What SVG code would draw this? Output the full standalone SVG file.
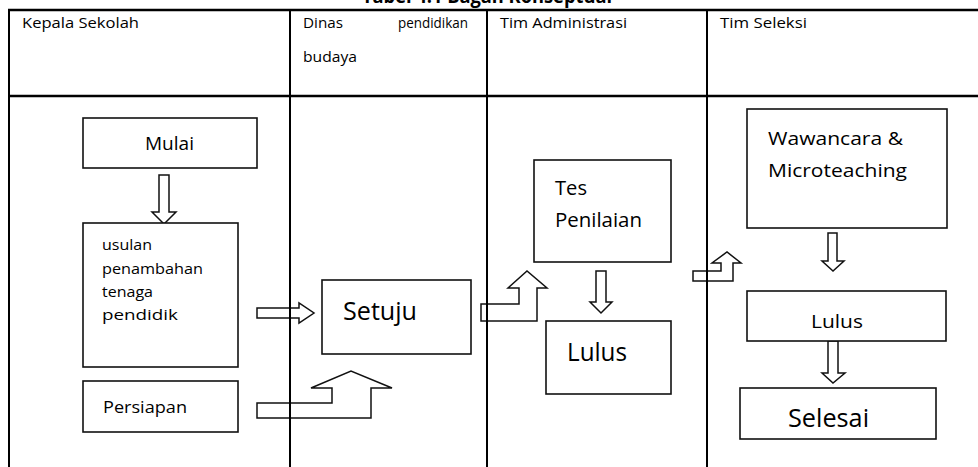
<svg xmlns="http://www.w3.org/2000/svg" width="978" height="467" viewBox="0 0 978 467">
<style>
.t{font-family:"Open Sans","Noto Sans","Liberation Sans",sans-serif;fill:#000;}
.box{fill:#fff;stroke:#111;stroke-width:1.6;}
.arr{fill:#fff;stroke:#111;stroke-width:1.5;stroke-linejoin:miter;}
.grid{stroke:#000;stroke-width:2;fill:none;}
.thick{stroke:#000;stroke-width:2.6;fill:none;}
</style>
<rect width="978" height="467" fill="#fff"/>
<text class="t" x="362" y="2.5" font-size="20" font-weight="bold" textLength="250" lengthAdjust="spacingAndGlyphs">Tabel 4.1 Bagan Konseptual</text>

<g id="connectors">
<polygon class="arr" points="159,175 169,175 169,212 176,212 164,224 152,212 159,212"/>
<polygon class="arr" points="257,308 299,308 299,303 314,313 299,323 299,318 257,318"/>
<polygon class="arr" points="257,403 332,403 332,388 311,388 351,371 392,388 371,388 371,418 257,418"/>
<polygon class="arr" points="481,304 519,304 519,288 508,288 527,271 547,288 537,288 537,321 481,321"/>
<polygon class="arr" points="596,271 606,271 606,302 612,302 601,313 590,302 596,302"/>
<polygon class="arr" points="693,271 721,271 721,263 712,263 727,252 741,263 733,263 733,281 693,281"/>
<polygon class="arr" points="828,233 837,233 837,261 844,261 833,271 822,261 828,261"/>
<polygon class="arr" points="828,341 838,341 838,373 845,373 833,383 822,373 828,373"/>
</g>

<g id="table">
<line class="thick" x1="8" y1="10" x2="978" y2="10"/>
<line class="thick" x1="8" y1="96" x2="978" y2="96"/>
<line class="grid" x1="9" y1="9" x2="9" y2="467"/>
<line class="grid" x1="290" y1="9" x2="290" y2="467"/>
<line class="grid" x1="487" y1="9" x2="487" y2="467"/>
<line class="grid" x1="707" y1="9" x2="707" y2="467"/>
<text class="t" x="22" y="28" font-size="14" textLength="117" lengthAdjust="spacingAndGlyphs">Kepala Sekolah</text>
<text class="t" x="303" y="28" font-size="14" textLength="40" lengthAdjust="spacingAndGlyphs">Dinas</text>
<text class="t" x="398" y="28" font-size="14" textLength="70" lengthAdjust="spacingAndGlyphs">pendidikan</text>
<text class="t" x="303" y="62" font-size="14" textLength="54" lengthAdjust="spacingAndGlyphs">budaya</text>
<text class="t" x="500" y="28" font-size="14" textLength="127" lengthAdjust="spacingAndGlyphs">Tim Administrasi</text>
<text class="t" x="720" y="28" font-size="14" textLength="87" lengthAdjust="spacingAndGlyphs">Tim Seleksi</text>
</g>

<g id="mulai">
<rect class="box" x="83" y="118" width="174" height="50"/>
<text class="t" x="145" y="150" font-size="18" textLength="49" lengthAdjust="spacingAndGlyphs">Mulai</text>
</g>
<g id="usulan">
<rect class="box" x="83" y="223" width="155" height="144"/>
<text class="t" x="102" y="250" font-size="14" textLength="50" lengthAdjust="spacingAndGlyphs">usulan</text>
<text class="t" x="102" y="274" font-size="14" textLength="101" lengthAdjust="spacingAndGlyphs">penambahan</text>
<text class="t" x="102" y="297" font-size="14" textLength="51" lengthAdjust="spacingAndGlyphs">tenaga</text>
<text class="t" x="102" y="320" font-size="14" textLength="76" lengthAdjust="spacingAndGlyphs">pendidik</text>
</g>
<g id="persiapan">
<rect class="box" x="83" y="381" width="155" height="51"/>
<text class="t" x="103" y="413" font-size="17" textLength="84" lengthAdjust="spacingAndGlyphs">Persiapan</text>
</g>
<g id="setuju">
<rect class="box" x="322" y="280" width="149" height="74"/>
<text class="t" x="343" y="320" font-size="25" textLength="74" lengthAdjust="spacingAndGlyphs">Setuju</text>
</g>
<g id="tes">
<rect class="box" x="534" y="160" width="137" height="102"/>
<text class="t" x="555" y="195" font-size="20" textLength="32" lengthAdjust="spacingAndGlyphs">Tes</text>
<text class="t" x="555" y="227" font-size="20" textLength="87" lengthAdjust="spacingAndGlyphs">Penilaian</text>
</g>
<g id="lulus-admin">
<rect class="box" x="546" y="321" width="125" height="73"/>
<text class="t" x="567" y="361" font-size="25" textLength="60" lengthAdjust="spacingAndGlyphs">Lulus</text>
</g>
<g id="wawancara">
<rect class="box" x="747" y="109" width="200" height="119"/>
<text class="t" x="768" y="145" font-size="18" textLength="135" lengthAdjust="spacingAndGlyphs">Wawancara &amp;</text>
<text class="t" x="768" y="177" font-size="18" textLength="139" lengthAdjust="spacingAndGlyphs">Microteaching</text>
</g>
<g id="lulus-seleksi">
<rect class="box" x="747" y="291" width="199" height="50"/>
<text class="t" x="811" y="328" font-size="19" textLength="52" lengthAdjust="spacingAndGlyphs">Lulus</text>
</g>
<g id="selesai">
<rect class="box" x="740" y="388" width="196" height="51"/>
<text class="t" x="788" y="427" font-size="26" textLength="81" lengthAdjust="spacingAndGlyphs">Selesai</text>
</g>
</svg>
